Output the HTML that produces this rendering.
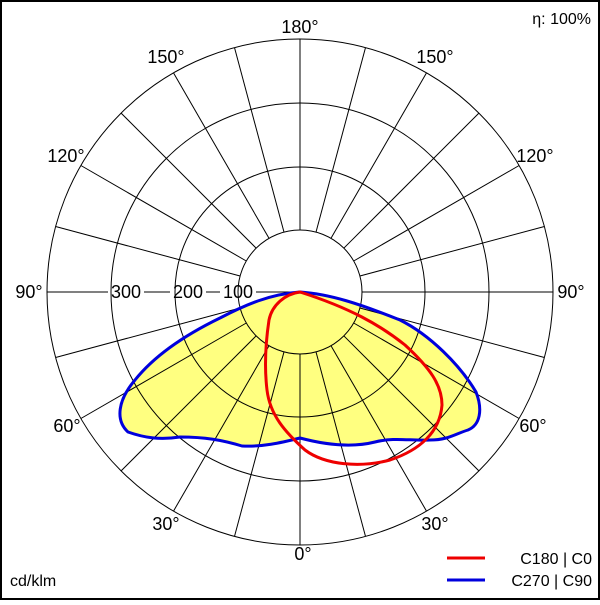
<!DOCTYPE html>
<html><head><style>
body{margin:0;background:#fff}
svg text{font-family:"Liberation Sans",Arial,sans-serif;fill:#000}
</style></head><body>
<svg width="600" height="600" viewBox="0 0 600 600" xmlns="http://www.w3.org/2000/svg">
<rect x="1" y="1" width="598" height="598" fill="#fff" stroke="#000" stroke-width="2"/>
<path d="M300,292 C330,294 360,304 400,320 C430,335 460,365 476,392 C483,410 480,425 468,430 C455,434 448,440 430,440 C410,441 395,437 375,442 C355,447 330,446 300,438 C280,443 262,447 242,446 C222,440 205,437 180,437 C160,440 145,438 128,432 C115,420 118,400 135,380 C155,355 185,335 220,318 C245,305 270,294 300,292 Z" fill="#ffff80"/>
<circle cx="300" cy="292" r="62" fill="none" stroke="#000"/>
<circle cx="300" cy="292" r="125" fill="none" stroke="#000"/>
<circle cx="300" cy="292" r="189" fill="none" stroke="#000"/>
<circle cx="300" cy="292" r="253" fill="none" stroke="#000"/>
<g stroke="#000" stroke-width="1">
<line x1="300" y1="230" x2="300" y2="39"/><line x1="300" y1="354" x2="300" y2="545"/>
<line x1="362" y1="292" x2="553" y2="292"/>
<line x1="316" y1="232.1" x2="365.5" y2="47.6"/><line x1="331" y1="238.3" x2="426.5" y2="72.9"/><line x1="343.8" y1="248.2" x2="478.9" y2="113.1"/><line x1="353.7" y1="261" x2="519.1" y2="165.5"/><line x1="359.9" y1="276" x2="544.4" y2="226.5"/>
<line x1="284" y1="232.1" x2="234.5" y2="47.6"/><line x1="269" y1="238.3" x2="173.5" y2="72.9"/><line x1="256.2" y1="248.2" x2="121.1" y2="113.1"/><line x1="246.3" y1="261" x2="80.9" y2="165.5"/><line x1="240.1" y1="276" x2="55.6" y2="226.5"/>
<line x1="316" y1="351.9" x2="365.5" y2="536.4"/><line x1="331" y1="345.7" x2="426.5" y2="511.1"/><line x1="343.8" y1="335.8" x2="478.9" y2="470.9"/><line x1="353.7" y1="323" x2="519.1" y2="418.5"/><line x1="359.9" y1="308" x2="544.4" y2="357.5"/>
<line x1="284" y1="351.9" x2="234.5" y2="536.4"/><line x1="269" y1="345.7" x2="173.5" y2="511.1"/><line x1="256.2" y1="335.8" x2="121.1" y2="470.9"/><line x1="246.3" y1="323" x2="80.9" y2="418.5"/><line x1="240.1" y1="308" x2="55.6" y2="357.5"/>
</g>
<g stroke="#000">
<line x1="47" y1="292" x2="108" y2="292"/><line x1="144" y1="292" x2="170" y2="292"/><line x1="206" y1="292" x2="220" y2="292"/><line x1="256" y1="292" x2="300" y2="292"/>
</g>
<g font-size="18" text-anchor="middle">
<text x="300" y="33">180°</text>
<text x="166" y="63">150°</text><text x="435" y="63">150°</text>
<text x="66" y="162">120°</text><text x="535" y="162">120°</text>
<text x="29" y="298">90°</text><text x="571" y="298">90°</text>
<text x="67" y="432">60°</text><text x="533" y="432">60°</text>
<text x="166" y="530">30°</text><text x="435" y="530">30°</text>
<text x="303" y="560">0°</text>
<text x="126" y="298">300</text><text x="188" y="298">200</text><text x="238" y="298">100</text>
</g>
<path d="M300,292 C330,294 360,304 400,320 C430,335 460,365 476,392 C483,410 480,425 468,430 C455,434 448,440 430,440 C410,441 395,437 375,442 C355,447 330,446 300,438 C280,443 262,447 242,446 C222,440 205,437 180,437 C160,440 145,438 128,432 C115,420 118,400 135,380 C155,355 185,335 220,318 C245,305 270,294 300,292 Z" fill="none" stroke="#0000dd" stroke-width="3"/>
<path d="M300,292 C285,294 272,305 269,320 C266,340 264,365 267,390 C270,415 285,432 305,450 C325,465 360,468 390,460 C420,450 440,432 442,405 C442,385 430,368 405,345 C380,325 350,308 300,292 Z" fill="none" stroke="#ee0000" stroke-width="3"/>
<text x="591" y="24" font-size="16" text-anchor="end">η: 100%</text>
<text x="10" y="586" font-size="16">cd/klm</text>
<line x1="447" y1="558" x2="485" y2="558" stroke="#ee0000" stroke-width="3"/>
<line x1="447" y1="580" x2="485" y2="580" stroke="#0000dd" stroke-width="3"/>
<text x="592" y="564" font-size="16" text-anchor="end">C180 | C0</text>
<text x="592" y="586" font-size="16" text-anchor="end">C270 | C90</text>
</svg>
</body></html>
